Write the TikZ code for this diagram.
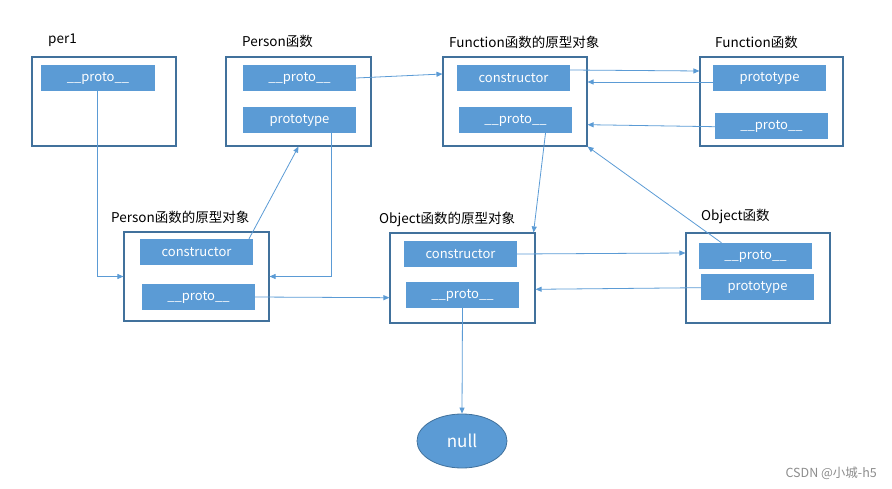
\documentclass[tikz,border=0pt]{standalone}
\usepackage{fontspec}
\setmainfont{Noto Sans CJK SC}
\usetikzlibrary{arrows.meta,shapes.geometric}
\definecolor{boxblue}{HTML}{5B9BD5}
\definecolor{framec}{HTML}{41719C}
\definecolor{linec}{HTML}{5B9BD5}
\tikzset{
  frame/.style={draw=framec, line width=1.1pt, fill=white, minimum width=#1, minimum height=89pt, inner sep=0pt},
  frame/.default=144pt,
  field/.style={fill=boxblue, text=white, font=\fontsize{13}{15}\selectfont, minimum width=113pt, minimum height=26pt, inner sep=0pt},
  title/.style={anchor=west, font=\fontsize{13.5}{16}\selectfont, inner sep=0pt},
  arr/.style={draw=linec, line width=0.8pt, -{Triangle[length=6pt,width=5pt]}}
}
\begin{document}
\begin{tikzpicture}[x=1pt,y=-1pt]
\useasboundingbox (0,0) rectangle (892,489);
% frames
\node[frame] (per1) at (104,101.5) {};
\node[frame=145pt] (personF) at (298.5,101.5) {};
\node[frame] (funcP) at (515,101.5) {};
\node[frame=143pt] (funcF) at (771.5,101.5) {};
\node[frame=145pt] (personP) at (196.5,276.5) {};
\node[frame=145pt, minimum height=90pt] (objP) at (462.5,278) {};
\node[frame, minimum height=90pt] (objF) at (758,278) {};
% titles
\node[title] (tper1) at (48,40) {per1};
\node[title] (tpersonF) at (242,41) {Person函数};
\node[title] (tfuncP) at (449,42) {Function函数的原型对象};
\node[title] (tfuncF) at (715,42) {Function函数};
\node[title] (tpersonP) at (111,217) {Person函数的原型对象};
\node[title] (tobjP) at (379,219) {Object函数的原型对象};
\node[title] (tobjF) at (701,216) {Object函数};
% fields
\node[field, minimum width=114pt] (per1p) at (98,78) {\_\_proto\_\_};
\node[field] (personFp) at (299.5,78) {\_\_proto\_\_};
\node[field] (personFt) at (299.5,120) {prototype};
\node[field] (funcPc) at (513.5,78) {constructor};
\node[field] (funcPp) at (515.5,120) {\_\_proto\_\_};
\node[field] (funcFt) at (769.5,78) {prototype};
\node[field] (funcFp) at (771.5,126) {\_\_proto\_\_};
\node[field] (personPc) at (196.5,252) {constructor};
\node[field] (personPp) at (198.5,297) {\_\_proto\_\_};
\node[field] (objPc) at (460.5,254) {constructor};
\node[field] (objPp) at (462.5,295) {\_\_proto\_\_};
\node[field] (objFp) at (755.5,256) {\_\_proto\_\_};
\node[field] (objFt) at (757.5,287) {prototype};
% null
\node[ellipse, draw=framec, line width=0.8pt, fill=boxblue, text=white, minimum width=90pt, minimum height=54pt, inner sep=0pt, font=\fontsize{17}{20}\selectfont] (null) at (462,441) {null};
% watermark
\node[anchor=east, inner sep=0pt, text=black!45, font=\fontsize{12.5}{15}\selectfont] (wm) at (877,473) {CSDN @小城-h5};
% connectors
\draw[arr] ([xshift=-1pt]per1p.south) |- (personP.west);
\draw[arr] ([xshift=31.5pt]personFt.south) |- (personP.east);
\draw[arr] ([xshift=52.5pt]personPc.north) -- (personF.south);
\draw[arr] (personFp.east) -- ([yshift=27.5pt]funcP.west);
\draw[arr] ([yshift=8pt]funcPc.east) -- ([yshift=30.5pt]funcF.west);
\draw[arr] ([yshift=-4pt]funcFt.west) -- ([yshift=19.5pt]funcP.east);
\draw[arr] ([yshift=-0.7pt]funcFp.west) -- ([yshift=-23.2pt]funcP.east);
\draw[arr] ([xshift=30pt]funcPp.south) -- ([xshift=-2pt]objP.north east);
\draw[arr] ([xshift=-34pt]objFp.north) -- (funcP.south east);
\draw[arr] (personPp.east) -- ([yshift=-19.7pt]objP.west);
\draw[arr] (objPc.east) -- ([yshift=25pt]objF.west);
\draw[arr] ([yshift=-0.7pt]objFt.west) -- ([yshift=-11.3pt]objP.east);
\draw[arr] (objPp.south) -- (null.north);
\end{tikzpicture}
\end{document}
